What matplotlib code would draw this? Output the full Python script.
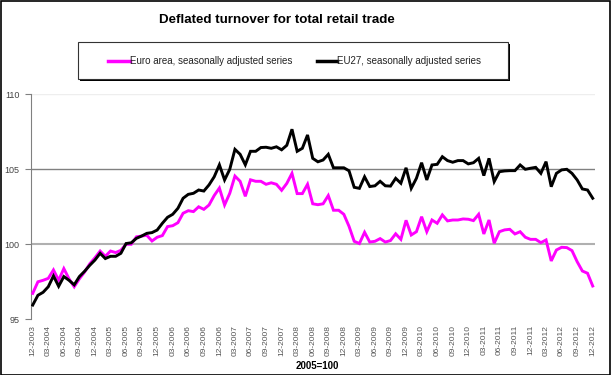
import numpy as np
import pandas as pd
import matplotlib
matplotlib.use('Agg')
import matplotlib.pyplot as plt
from matplotlib.patches import Rectangle
from matplotlib.lines import Line2D

plt.rcParams['font.family'] = ['Liberation Sans', 'DejaVu Sans']

# monthly index 2005=100, 12-2003 .. 12-2012
months = pd.date_range('2003-12-01', periods=109, freq='MS')
tick_labels = [d.strftime('%m-%Y') for d in months[::3]]

euro_area = [96.73, 97.5, 97.6, 97.73, 98.29, 97.6, 98.38, 97.7, 97.17, 97.7,
             98.15, 98.7, 99.1, 99.55, 99.2, 99.55, 99.45, 99.6, 100.0, 100.0,
             100.5, 100.55, 100.6, 100.22, 100.47, 100.58, 101.18, 101.24, 101.44, 102.07,
             102.24, 102.18, 102.5, 102.33, 102.62, 103.25, 103.75, 102.62, 103.4, 104.55,
             104.2, 103.2, 104.3, 104.2, 104.2, 104.0, 104.1, 104.0, 103.6, 104.06,
             104.73, 103.38, 103.38, 104.0, 102.7, 102.64, 102.7, 103.25, 102.27, 102.27,
             102.0, 101.2, 100.2, 100.05, 100.8, 100.15, 100.2, 100.38, 100.15, 100.25,
             100.7, 100.33, 101.6, 100.62, 100.84, 101.84, 100.84, 101.62, 101.4, 101.96,
             101.56, 101.62, 101.62, 101.69, 101.67, 101.58, 102.0, 100.69, 101.62, 100.07,
             100.84, 100.96, 101.0, 100.69, 100.84, 100.47, 100.33, 100.33, 100.11, 100.29,
             98.89, 99.62, 99.8, 99.78, 99.58, 98.84, 98.22, 98.07, 97.22]

eu27 = [95.95, 96.6, 96.8, 97.17, 97.89, 97.2, 97.85, 97.6, 97.3, 97.85,
        98.2, 98.6, 98.95, 99.4, 99.05, 99.2, 99.2, 99.4, 100.05, 100.1,
        100.4, 100.55, 100.73, 100.78, 100.95, 101.4, 101.8, 102.0, 102.4, 103.07,
        103.33, 103.4, 103.62, 103.55, 103.96, 104.5, 105.3, 104.29, 105.0, 106.33,
        106.0, 105.3, 106.2, 106.2, 106.45, 106.47, 106.4, 106.5, 106.3, 106.6,
        107.67, 106.2, 106.4, 107.29, 105.73, 105.5, 105.62, 106.0, 105.1, 105.1,
        105.1, 104.9, 103.8, 103.73, 104.5, 103.85, 103.9, 104.2, 103.9, 103.88,
        104.4, 104.07, 105.1, 103.73, 104.4, 105.44, 104.29, 105.29, 105.33, 105.84,
        105.58, 105.47, 105.58, 105.58, 105.36, 105.44, 105.73, 104.58, 105.73, 104.18,
        104.84, 104.89, 104.91, 104.91, 105.29, 105.0, 105.07, 105.13, 104.73, 105.51,
        103.84, 104.73, 104.96, 105.0, 104.73, 104.29, 103.69, 103.62, 103.07]

W, H = 611, 375
fig = plt.figure(figsize=(W / 100, H / 100), dpi=100)
ax = fig.add_axes([30.7 / W, 1 - 319.3 / H, (595 - 30.7) / W, (319.3 - 94.3) / H])

x = np.arange(len(months))
ax.axhline(110, color='#eeeeee', lw=1, zorder=1)
ax.axhline(105, color='#808080', lw=1, zorder=1)
ax.axhline(100, color='#b0b0b0', lw=1.5, zorder=1)
ax.plot(x, euro_area, color='#ff00ff', lw=2.1, zorder=3, solid_joinstyle='miter')
ax.plot(x, eu27, color='black', lw=2.1, zorder=4, solid_joinstyle='miter')

ax.set_ylim(95, 110)
ax.set_yticks([95, 100, 105, 110])
ax.set_xlim(-0.39, 108.44)
ax.set_xticks(x[::3])
ax.set_xticklabels(tick_labels, rotation=90, fontsize=6, color='#555555')
ax.tick_params(axis='x', length=0, pad=4)
ax.tick_params(axis='y', labelsize=6.5, labelcolor='#444444', length=4,
               color='#808080', direction='out', pad=4)
for s in ['top', 'right', 'bottom']:
    ax.spines[s].set_visible(False)
ax.spines['left'].set_color('#808080')

fig.text(277 / W, 1 - 20 / H, 'Deflated turnover for total retail trade',
         ha='center', va='center', fontsize=9.6, fontweight='bold')
fig.text(317 / W, 1 - 366 / H, '2005=100', ha='center', va='center',
         fontsize=7, fontweight='bold')

# legend box with shadow
fig.patches.append(Rectangle((80 / W, 1 - 81 / H), 430 / W, 37 / H,
                             transform=fig.transFigure, facecolor='black',
                             edgecolor='none', zorder=1))
fig.patches.append(Rectangle((78.3 / W, 1 - 79 / H), 430 / W, 36.7 / H,
                             transform=fig.transFigure, facecolor='white',
                             edgecolor='#333333', lw=0.8, zorder=2))
ly = 1 - 60.5 / H
fig.lines.append(Line2D([108 / W, 130 / W], [ly, ly], transform=fig.transFigure,
                        color='#ff00ff', lw=2.5, zorder=3))
fig.text(130 / W, ly, 'Euro area, seasonally adjusted series', va='center',
         fontsize=7, color='#222222', zorder=3)
fig.lines.append(Line2D([317 / W, 337 / W], [ly, ly], transform=fig.transFigure,
                        color='black', lw=2.5, zorder=3))
fig.text(337 / W, ly, 'EU27, seasonally adjusted series', va='center',
         fontsize=7, color='#222222', zorder=3)

# outer frame
fig.patches.append(Rectangle((0.5 / W, 0.5 / H), (W - 1.5) / W, (H - 1.5) / H,
                             transform=fig.transFigure, fill=False,
                             edgecolor='black', lw=1.2, zorder=5))

fig.savefig('out.png', dpi=100)
